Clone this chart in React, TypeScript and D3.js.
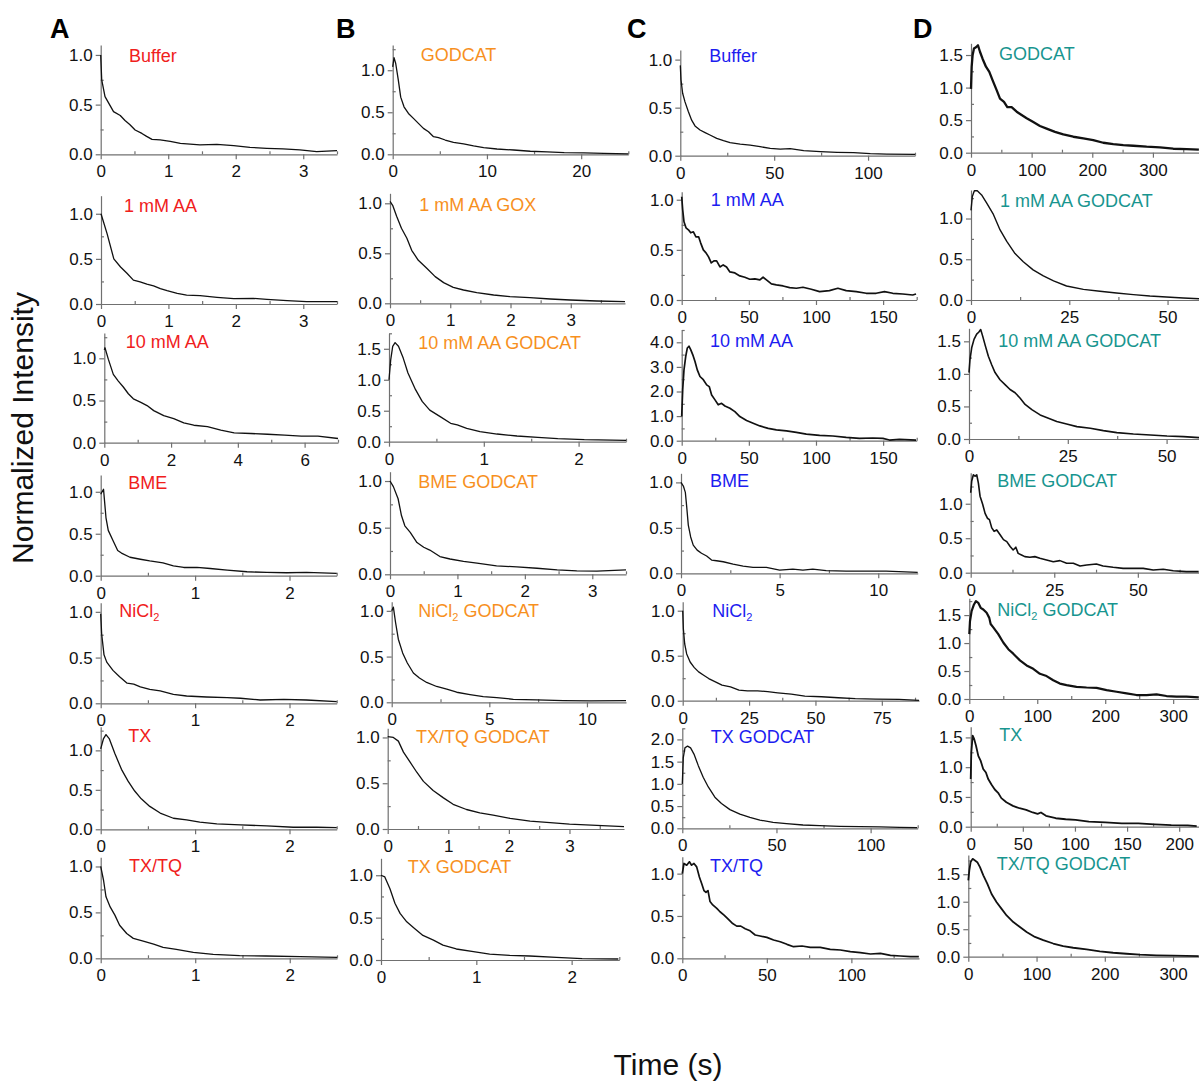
import React, { useEffect, useRef } from 'react';
import * as d3 from 'd3';

type Pt = [number, number];

// traces: [time (s), normalized intensity]
// column A
const aBuffer: Pt[] = [[0, 1.0], [0.015, 0.75], [0.064, 0.58], [0.19, 0.43], [0.29, 0.39], [0.36, 0.34], [0.43, 0.3], [0.51, 0.245], [0.61, 0.21], [0.68, 0.18], [0.76, 0.15], [0.88, 0.145], [1.03, 0.13], [1.18, 0.11], [1.47, 0.094], [1.72, 0.1], [1.97, 0.087], [2.21, 0.07], [2.46, 0.06], [2.7, 0.054], [2.95, 0.044], [3.2, 0.027], [3.5, 0.037]];
const aAA1: Pt[] = [[0, 1.0], [0.09, 0.78], [0.19, 0.5], [0.29, 0.41], [0.385, 0.34], [0.48, 0.265], [0.58, 0.245], [0.68, 0.22], [0.78, 0.2], [0.88, 0.17], [0.98, 0.147], [1.13, 0.118], [1.27, 0.099], [1.47, 0.092], [1.72, 0.074], [1.97, 0.059], [2.26, 0.062], [2.46, 0.051], [2.76, 0.037], [3.05, 0.026], [3.5, 0.026]];
const aAA10: Pt[] = [[0, 1.1], [0.02, 1.125], [0.12, 0.99], [0.27, 0.81], [0.42, 0.73], [0.57, 0.66], [0.72, 0.58], [0.87, 0.52], [1.08, 0.48], [1.28, 0.44], [1.48, 0.38], [1.78, 0.32], [2.08, 0.285], [2.38, 0.234], [2.68, 0.207], [3.09, 0.19], [3.49, 0.148], [3.89, 0.117], [4.39, 0.109], [4.89, 0.1], [5.4, 0.09], [5.9, 0.078], [6.4, 0.078], [7.0, 0.05]];
const aBME: Pt[] = [[0, 0.97], [0.03, 1.03], [0.056, 0.69], [0.08, 0.54], [0.13, 0.42], [0.18, 0.3], [0.22, 0.27], [0.31, 0.22], [0.42, 0.196], [0.52, 0.176], [0.66, 0.153], [0.77, 0.118], [0.88, 0.098], [1.02, 0.098], [1.16, 0.086], [1.34, 0.067], [1.55, 0.047], [1.76, 0.039], [1.97, 0.035], [2.18, 0.039], [2.5, 0.027]];
const aNiCl2: Pt[] = [[0, 0.98], [0.01, 0.76], [0.035, 0.53], [0.064, 0.45], [0.13, 0.36], [0.2, 0.29], [0.28, 0.22], [0.35, 0.21], [0.42, 0.18], [0.52, 0.153], [0.63, 0.135], [0.77, 0.098], [0.91, 0.08], [1.12, 0.069], [1.34, 0.062], [1.48, 0.055], [1.69, 0.036], [1.94, 0.044], [2.18, 0.036], [2.5, 0.018]];
const aTX: Pt[] = [[0, 1.02], [0.03, 1.15], [0.056, 1.2], [0.09, 1.15], [0.15, 0.96], [0.22, 0.76], [0.29, 0.61], [0.36, 0.485], [0.43, 0.386], [0.52, 0.29], [0.63, 0.206], [0.77, 0.14], [0.91, 0.12], [1.05, 0.09], [1.23, 0.069], [1.48, 0.056], [1.76, 0.043], [2.04, 0.026], [2.29, 0.026], [2.5, 0.021]];
const aTXTQ: Pt[] = [[0, 1.0], [0.03, 0.85], [0.056, 0.67], [0.1, 0.56], [0.15, 0.47], [0.2, 0.36], [0.275, 0.27], [0.345, 0.217], [0.45, 0.188], [0.56, 0.155], [0.66, 0.119], [0.8, 0.097], [0.98, 0.065], [1.19, 0.043], [1.47, 0.029], [1.75, 0.025], [2.11, 0.018], [2.5, 0.011]];

// column B
const bGodcat: Pt[] = [[0, 1.04], [0.14, 1.15], [0.32, 1.08], [0.6, 0.88], [0.85, 0.68], [1.2, 0.565], [1.67, 0.486], [2.2, 0.427], [2.73, 0.368], [3.26, 0.308], [3.8, 0.269], [4.33, 0.209], [4.86, 0.198], [5.57, 0.17], [6.45, 0.142], [7.52, 0.123], [8.58, 0.099], [9.65, 0.079], [11.06, 0.063], [12.84, 0.051], [14.6, 0.036], [16.4, 0.028], [18.2, 0.02], [20.3, 0.016], [22.4, 0.012], [25, 0.004]];
const bAA1Gox: Pt[] = [[0, 1.02], [0.044, 0.98], [0.11, 0.87], [0.19, 0.75], [0.28, 0.65], [0.36, 0.53], [0.47, 0.43], [0.61, 0.35], [0.75, 0.267], [0.89, 0.207], [1.05, 0.16], [1.22, 0.133], [1.44, 0.107], [1.72, 0.083], [1.99, 0.067], [2.32, 0.057], [2.66, 0.043], [2.99, 0.033], [3.43, 0.023], [3.9, 0.017]];
const bAA10Godcat: Pt[] = [[0, 1.0], [0.018, 1.32], [0.039, 1.54], [0.064, 1.6], [0.1, 1.54], [0.15, 1.35], [0.2, 1.11], [0.28, 0.84], [0.35, 0.65], [0.43, 0.51], [0.54, 0.405], [0.65, 0.297], [0.72, 0.27], [0.82, 0.216], [0.96, 0.162], [1.14, 0.124], [1.35, 0.092], [1.57, 0.07], [1.78, 0.049], [2.06, 0.032], [2.5, 0.022]];
const bBMEGodcat: Pt[] = [[0, 1.0], [0.05, 0.94], [0.12, 0.81], [0.17, 0.63], [0.22, 0.52], [0.3, 0.45], [0.4, 0.34], [0.5, 0.29], [0.59, 0.26], [0.74, 0.19], [0.89, 0.164], [1.09, 0.138], [1.29, 0.12], [1.58, 0.09], [1.88, 0.08], [2.18, 0.065], [2.48, 0.047], [2.77, 0.036], [3.07, 0.033], [3.5, 0.047]];
const bNiCl2Godcat: Pt[] = [[0, 1.0], [0.085, 1.04], [0.2, 0.87], [0.34, 0.69], [0.56, 0.54], [0.8, 0.43], [1.11, 0.32], [1.42, 0.265], [1.79, 0.217], [2.3, 0.173], [2.82, 0.143], [3.33, 0.11], [4.01, 0.085], [4.69, 0.063], [5.38, 0.051], [6.23, 0.033], [7.42, 0.026], [8.79, 0.018], [10.15, 0.015], [12, 0.018]];
const bTXTQGodcat: Pt[] = [[0, 1.01], [0.093, 1.0], [0.176, 0.96], [0.26, 0.84], [0.37, 0.73], [0.48, 0.62], [0.59, 0.52], [0.75, 0.42], [0.92, 0.34], [1.08, 0.27], [1.3, 0.213], [1.52, 0.177], [1.74, 0.152], [2.02, 0.116], [2.35, 0.087], [2.68, 0.069], [3.0, 0.054], [3.45, 0.04], [3.9, 0.025]];
const bTXGodcat: Pt[] = [[0, 1.0], [0.04, 0.98], [0.094, 0.84], [0.146, 0.67], [0.2, 0.55], [0.27, 0.45], [0.355, 0.37], [0.44, 0.29], [0.55, 0.235], [0.65, 0.176], [0.79, 0.13], [0.97, 0.098], [1.14, 0.07], [1.35, 0.055], [1.56, 0.047], [1.84, 0.031], [2.11, 0.016], [2.49, 0.012]];

// column C
const cBuffer: Pt[] = [[0, 0.94], [0.36, 0.79], [1.25, 0.65], [2.5, 0.56], [4.27, 0.46], [6.05, 0.37], [7.83, 0.31], [10.5, 0.267], [13.2, 0.24], [15.8, 0.215], [19.4, 0.18], [23, 0.156], [26.5, 0.135], [31.9, 0.12], [37.2, 0.11], [42.5, 0.094], [47.9, 0.076], [53.2, 0.069], [58.5, 0.073], [65.7, 0.052], [74.6, 0.042], [83.5, 0.035], [92.3, 0.031], [101.2, 0.021], [110, 0.017], [125, 0.014]];
const cAA1: Pt[] = [[0, 1.03], [0.74, 0.9], [1.7, 0.78], [3.2, 0.72], [5, 0.7], [6.7, 0.67], [8.7, 0.68], [10.6, 0.63], [12.6, 0.63], [14.1, 0.57], [16.1, 0.5], [18.1, 0.47], [20, 0.43], [22, 0.37], [24, 0.39], [26, 0.39], [28.5, 0.33], [30.9, 0.35], [33.4, 0.33], [35.9, 0.28], [39.6, 0.27], [43.3, 0.24], [47, 0.227], [50.7, 0.207], [54.5, 0.21], [58.2, 0.2], [60.6, 0.227], [63.1, 0.2], [66.8, 0.16], [70.5, 0.15], [75.5, 0.14], [80.4, 0.123], [85.4, 0.117], [90.3, 0.127], [96.5, 0.107], [102.7, 0.083], [110, 0.093], [116.3, 0.117], [122.5, 0.093], [130, 0.083], [137.4, 0.067], [144.8, 0.067], [151, 0.083], [157.2, 0.067], [164.6, 0.06], [172, 0.05], [174.5, 0.06]];
const cAA10: Pt[] = [[0, 0.98], [0.74, 2.07], [1.7, 2.88], [3, 3.43], [4.2, 3.77], [5.4, 3.84], [6.7, 3.7], [8.2, 3.5], [9.9, 3.22], [11.6, 2.88], [13.6, 2.61], [16.1, 2.48], [18.6, 2.27], [20.5, 2.2], [22.3, 1.86], [24.8, 1.66], [27.2, 1.46], [29.7, 1.52], [32.2, 1.41], [35.9, 1.32], [39.6, 1.18], [43.3, 0.98], [48.3, 0.82], [53.2, 0.71], [58.2, 0.6], [64.4, 0.5], [70.5, 0.44], [78, 0.4], [85.4, 0.34], [92.8, 0.27], [102.7, 0.22], [112.6, 0.19], [122.5, 0.136], [132.4, 0.095], [142.3, 0.11], [149.8, 0.095], [154.7, 0.027], [162.1, 0.054], [174.5, 0.027]];
const cBME: Pt[] = [[0, 1.0], [0.12, 0.96], [0.22, 0.89], [0.29, 0.73], [0.37, 0.53], [0.49, 0.4], [0.62, 0.31], [0.82, 0.255], [1.04, 0.22], [1.3, 0.19], [1.55, 0.145], [1.8, 0.138], [2.14, 0.127], [2.64, 0.1], [3.15, 0.08], [3.65, 0.065], [4.33, 0.065], [5, 0.036], [5.67, 0.047], [6.18, 0.036], [6.68, 0.047], [7.36, 0.029], [8.37, 0.025], [9.38, 0.025], [10.4, 0.025], [12, 0.011]];
const cNiCl2: Pt[] = [[0, 1.0], [0.25, 0.8], [0.76, 0.63], [1.5, 0.52], [2.8, 0.43], [4.3, 0.37], [6, 0.32], [7.9, 0.283], [9.8, 0.246], [12.3, 0.21], [14.8, 0.173], [18, 0.154], [21.2, 0.118], [24.4, 0.11], [28.2, 0.11], [32, 0.1], [35.8, 0.088], [40.9, 0.074], [46, 0.051], [52.3, 0.044], [58.6, 0.033], [65, 0.022], [72.6, 0.018], [81.5, 0.015], [89, 0.004]];
const cTXGodcat: Pt[] = [[0, 1.0], [0.53, 1.59], [1.4, 1.81], [2.8, 1.85], [4.4, 1.81], [6.2, 1.67], [8.5, 1.41], [11.1, 1.15], [13.8, 0.93], [17.3, 0.7], [20.8, 0.56], [25.3, 0.42], [30.6, 0.32], [35.9, 0.244], [41.2, 0.185], [48.2, 0.133], [55.3, 0.104], [64.1, 0.074], [72.9, 0.059], [83.6, 0.044], [94.2, 0.037], [104.8, 0.03], [115.4, 0.022], [124.7, 0.015]];
const cTXTQ: Pt[] = [[0, 1.0], [1, 1.12], [2.6, 1.1], [4.2, 1.14], [5.5, 1.1], [6.9, 1.12], [8.5, 1.08], [10.1, 0.96], [11.5, 0.88], [12.8, 0.8], [14, 0.78], [15.2, 0.8], [16.4, 0.67], [18, 0.63], [20.4, 0.59], [22.3, 0.55], [24.7, 0.51], [27.3, 0.46], [29.8, 0.41], [32.2, 0.38], [34.6, 0.38], [37.2, 0.35], [40.1, 0.325], [43.1, 0.275], [46, 0.263], [50, 0.247], [54, 0.216], [57.9, 0.196], [61.9, 0.165], [65.8, 0.137], [70.8, 0.145], [75.7, 0.13], [81.6, 0.13], [87.5, 0.106], [93.5, 0.098], [99.4, 0.078], [105.3, 0.067], [111.3, 0.051], [117.2, 0.059], [123.1, 0.035], [129, 0.027], [135, 0.02], [139.9, 0.02]];

// column D
const dGodcat: Pt[] = [[0, 0.98], [1.1, 1.32], [2.7, 1.5], [4.9, 1.6], [8.2, 1.62], [11.5, 1.65], [14.8, 1.55], [19.2, 1.44], [24.7, 1.32], [30.2, 1.24], [35.7, 1.11], [42.3, 0.96], [47.8, 0.83], [54.4, 0.78], [59.9, 0.7], [67, 0.7], [75.3, 0.63], [83.5, 0.58], [91.8, 0.53], [102.7, 0.47], [113.7, 0.41], [124.7, 0.37], [138.5, 0.32], [152.2, 0.28], [168.7, 0.245], [185.2, 0.22], [201.6, 0.194], [218.1, 0.153], [234.6, 0.133], [251.1, 0.117], [267.6, 0.107], [289.6, 0.092], [311.5, 0.082], [333.5, 0.061], [355.5, 0.056], [375.8, 0.046]];
const dAA1Godcat: Pt[] = [[0, 1.1], [0.34, 1.27], [0.85, 1.34], [1.6, 1.34], [2.7, 1.29], [4, 1.19], [5.7, 1.05], [7.4, 0.86], [9.1, 0.72], [11.2, 0.57], [13.3, 0.47], [15.8, 0.37], [18.4, 0.295], [21, 0.234], [24.3, 0.172], [28.6, 0.131], [32.8, 0.107], [37, 0.086], [41.3, 0.066], [45.5, 0.049], [49.7, 0.037], [54, 0.025], [58, 0.016]];
const dAA10Godcat: Pt[] = [[0, 1.02], [0.25, 1.22], [0.68, 1.4], [1.27, 1.53], [1.94, 1.61], [2.45, 1.64], [2.96, 1.68], [3.46, 1.58], [4.14, 1.43], [4.9, 1.27], [5.74, 1.14], [6.59, 1.02], [7.85, 0.91], [9.12, 0.835], [10.39, 0.76], [11.66, 0.71], [12.9, 0.63], [14.2, 0.53], [15.9, 0.45], [18, 0.37], [20.1, 0.32], [22.2, 0.27], [24.7, 0.23], [27.3, 0.19], [30.7, 0.165], [34, 0.129], [37.4, 0.098], [41.6, 0.077], [45.9, 0.062], [50.1, 0.046], [54.3, 0.036], [58.2, 0.021]];
const dBMEGodcat: Pt[] = [[0, 1.16], [0.3, 1.33], [0.8, 1.42], [1.3, 1.4], [1.8, 1.42], [2.3, 1.3], [2.8, 1.11], [3.6, 0.99], [4.3, 0.86], [5, 0.79], [5.6, 0.77], [6.3, 0.65], [7, 0.6], [7.8, 0.62], [8.8, 0.55], [9.8, 0.48], [10.8, 0.45], [11.8, 0.38], [12.7, 0.33], [13.5, 0.37], [14.2, 0.28], [15.2, 0.257], [16.2, 0.233], [17.7, 0.223], [19.2, 0.233], [20.7, 0.209], [22.7, 0.184], [24.7, 0.16], [26.7, 0.175], [28.7, 0.136], [30.7, 0.136], [32.7, 0.097], [34.7, 0.112], [37.6, 0.126], [39.6, 0.097], [42.6, 0.078], [45.6, 0.063], [48.6, 0.063], [51.6, 0.063], [54.6, 0.039], [57.6, 0.049], [60.6, 0.029], [64.5, 0.015], [68.2, 0.015]];
const dNiCl2Godcat: Pt[] = [[0, 1.16], [1, 1.39], [3.4, 1.57], [6.9, 1.69], [9.8, 1.75], [13.2, 1.72], [16.7, 1.63], [20.6, 1.6], [25.5, 1.54], [29.4, 1.45], [31.4, 1.34], [35.3, 1.28], [42.6, 1.16], [50, 1.01], [57.4, 0.89], [64.7, 0.81], [74.5, 0.69], [84.3, 0.6], [94.1, 0.54], [103.9, 0.45], [113.7, 0.41], [123.5, 0.335], [133.3, 0.276], [143.1, 0.247], [157.8, 0.218], [172.5, 0.206], [187.3, 0.2], [202, 0.159], [216.7, 0.129], [231.4, 0.1], [246.1, 0.071], [260.8, 0.071], [275.5, 0.082], [290.2, 0.053], [304.9, 0.041], [319.6, 0.041], [337.7, 0.029]];
const dTX: Pt[] = [[0, 0.8], [0.6, 1.25], [1.9, 1.53], [3.2, 1.48], [5.1, 1.36], [7.3, 1.19], [9.5, 1.11], [12, 0.97], [14.6, 0.91], [16.8, 0.8], [19.9, 0.71], [23.1, 0.625], [26.3, 0.57], [29.4, 0.48], [34.2, 0.41], [40.5, 0.35], [46.8, 0.31], [53.2, 0.284], [59.5, 0.239], [64.2, 0.216], [67.4, 0.239], [72.2, 0.182], [81.6, 0.142], [91.1, 0.125], [100.6, 0.114], [113.3, 0.085], [129.1, 0.074], [145, 0.057], [160.8, 0.057], [176.6, 0.04], [192.4, 0.028], [208.2, 0.023], [216.8, 0.011]];
const dTXTQGodcat: Pt[] = [[0, 1.39], [1.5, 1.57], [3.4, 1.72], [6.3, 1.78], [9.8, 1.75], [13.2, 1.72], [17.1, 1.63], [22, 1.48], [27.8, 1.33], [34.1, 1.14], [41.5, 0.99], [48.8, 0.87], [56.1, 0.75], [65.9, 0.63], [75.6, 0.54], [85.4, 0.45], [97.6, 0.36], [109.8, 0.3], [124.4, 0.24], [139, 0.193], [153.7, 0.163], [173.2, 0.133], [192.7, 0.096], [212.2, 0.072], [231.7, 0.054], [251.2, 0.036], [275.6, 0.024], [300, 0.018], [337.6, 0.012]];

const RED = '#f0201c';
const ORANGE = '#f7901e';
const BLUE = '#1d1df0';
const TEAL = '#18958f';
const FONT = '"Liberation Sans", Arial, Helvetica, sans-serif';

// label text ("_2" marks a subscript 2), colour, x domain end, x tick step, y domain end, y tick step
const PANELS = [
  { data: aBuffer, label: 'Buffer', color: RED, xMax: 3.5, xStep: 1, yMax: 1.1, yStep: 0.5 },
  { data: aAA1, label: '1 mM AA', color: RED, xMax: 3.5, xStep: 1, yMax: 1.2, yStep: 0.5 },
  { data: aAA10, label: '10 mM AA', color: RED, xMax: 7, xStep: 2, yMax: 1.3, yStep: 0.5 },
  { data: aBME, label: 'BME', color: RED, xMax: 2.5, xStep: 1, yMax: 1.2, yStep: 0.5 },
  { data: aNiCl2, label: 'NiCl_2', color: RED, xMax: 2.5, xStep: 1, yMax: 1.1, yStep: 0.5 },
  { data: aTX, label: 'TX', color: RED, xMax: 2.5, xStep: 1, yMax: 1.3, yStep: 0.5 },
  { data: aTXTQ, label: 'TX/TQ', color: RED, xMax: 2.5, xStep: 1, yMax: 1.1, yStep: 0.5 },
  { data: bGodcat, label: 'GODCAT', color: ORANGE, xMax: 25, xStep: 10, yMax: 1.3, yStep: 0.5 },
  { data: bAA1Gox, label: '1 mM AA GOX', color: ORANGE, xMax: 3.9, xStep: 1, yMax: 1.1, yStep: 0.5 },
  { data: bAA10Godcat, label: '10 mM AA GODCAT', color: ORANGE, xMax: 2.5, xStep: 1, yMax: 1.75, yStep: 0.5 },
  { data: bBMEGodcat, label: 'BME GODCAT', color: ORANGE, xMax: 3.5, xStep: 1, yMax: 1.1, yStep: 0.5 },
  { data: bNiCl2Godcat, label: 'NiCl_2 GODCAT', color: ORANGE, xMax: 12, xStep: 5, yMax: 1.1, yStep: 0.5 },
  { data: bTXTQGodcat, label: 'TX/TQ GODCAT', color: ORANGE, xMax: 3.9, xStep: 1, yMax: 1.1, yStep: 0.5 },
  { data: bTXGodcat, label: 'TX GODCAT', color: ORANGE, xMax: 2.5, xStep: 1, yMax: 1.2, yStep: 0.5 },
  { data: cBuffer, label: 'Buffer', color: BLUE, xMax: 125, xStep: 50, yMax: 1.1, yStep: 0.5 },
  { data: cAA1, label: '1 mM AA', color: BLUE, xMax: 175, xStep: 50, yMax: 1.08, yStep: 0.5 },
  { data: cAA10, label: '10 mM AA', color: BLUE, xMax: 175, xStep: 50, yMax: 4.5, yStep: 1 },
  { data: cBME, label: 'BME', color: BLUE, xMax: 12, xStep: 5, yMax: 1.1, yStep: 0.5 },
  { data: cNiCl2, label: 'NiCl_2', color: BLUE, xMax: 89, xStep: 25, yMax: 1.1, yStep: 0.5 },
  { data: cTXGodcat, label: 'TX GODCAT', color: BLUE, xMax: 125, xStep: 50, yMax: 2.25, yStep: 0.5 },
  { data: cTXTQ, label: 'TX/TQ', color: BLUE, xMax: 140, xStep: 50, yMax: 1.2, yStep: 0.5 },
  { data: dGodcat, label: 'GODCAT', color: TEAL, xMax: 376, xStep: 100, yMax: 1.68, yStep: 0.5 },
  { data: dAA1Godcat, label: '1 mM AA GODCAT', color: TEAL, xMax: 58, xStep: 25, yMax: 1.35, yStep: 0.5 },
  { data: dAA10Godcat, label: '10 mM AA GODCAT', color: TEAL, xMax: 58.2, xStep: 25, yMax: 1.7, yStep: 0.5 },
  { data: dBMEGodcat, label: 'BME GODCAT', color: TEAL, xMax: 68.3, xStep: 25, yMax: 1.45, yStep: 0.5 },
  { data: dNiCl2Godcat, label: 'NiCl_2 GODCAT', color: TEAL, xMax: 338, xStep: 100, yMax: 1.8, yStep: 0.5 },
  { data: dTX, label: 'TX', color: TEAL, xMax: 219, xStep: 50, yMax: 1.68, yStep: 0.5 },
  { data: dTXTQGodcat, label: 'TX/TQ GODCAT', color: TEAL, xMax: 338, xStep: 100, yMax: 1.85, yStep: 0.5 },
];

// layout: plot box [left, right, top, bottom] in px, label anchor [x, baseline], trace width
const BOXES = [
  [100.7, 337, 45, 154.3], [101, 337, 195.7, 304], [104.3, 338, 333, 442.7], [100.7, 336.7, 475, 575.7],
  [100.7, 336.7, 602.7, 703.3], [100.7, 336.7, 726.7, 829.3], [100.7, 337, 857.3, 958.3],
  [392.7, 628.3, 45, 154.3], [390, 625, 193.3, 303.3], [389, 626, 333.3, 441.7], [390, 626, 471.7, 574.3],
  [391.7, 626, 601.7, 702.3], [387.7, 624, 728.3, 829], [381, 619.3, 858.3, 960],
  [680.3, 915, 50, 155.7], [681.7, 916.7, 191.7, 300], [681.7, 916.7, 330, 440.7], [681, 917.7, 473.3, 573.3],
  [682.7, 919, 601.7, 700.7], [682.3, 917.7, 728.3, 828.3], [682.3, 919, 856.7, 958.3],
  [971, 1199, 43.3, 152.7], [971, 1199, 190, 300], [969, 1199, 328.3, 439], [970.7, 1199, 472.7, 572.7],
  [969.3, 1199, 598.3, 699], [970.7, 1199, 726.7, 826.7], [968.3, 1199, 855, 956.7],
];
const LABEL_POS = [
  [129, 61.5], [124, 211.7], [125.7, 348.3], [128.3, 489], [119.3, 616.7], [128.3, 742.3], [129, 872.3],
  [420.7, 61], [419.3, 211], [418.3, 349.3], [418.3, 488.3], [418.3, 616.7], [416, 743.3], [407.7, 873.3],
  [709.3, 62.3], [710.7, 206], [710, 346.7], [710, 487.3], [712.3, 616.7], [710.7, 743.3], [710, 871.7],
  [999, 60], [1000, 206.7], [998.3, 346.7], [997.3, 487.3], [997.3, 616], [999.3, 741], [996.7, 870],
];
const LINE_W = [
  1.3, 1.3, 1.3, 1.3, 1.3, 1.3, 1.3,
  1.3, 1.3, 1.3, 1.3, 1.3, 1.3, 1.3,
  1.3, 1.7, 1.7, 1.3, 1.3, 1.3, 1.7,
  2.3, 1.4, 1.6, 1.6, 2.2, 1.8, 1.8,
];
const LETTERS = [['A', 50], ['B', 336], ['C', 627], ['D', 913]] as const;

export default function App() {
  const ref = useRef<SVGSVGElement>(null);

  useEffect(() => {
    const svg = d3.select(ref.current);
    svg.selectAll('*').remove();

    PANELS.forEach((p, i) => {
      const [l, r, t, b] = BOXES[i];
      const x = d3.scaleLinear().domain([0, p.xMax]).range([l, r]);
      const y = d3.scaleLinear().domain([0, p.yMax]).range([b, t]);
      const eps = 1e-6;
      const xMajor = d3.range(0, p.xMax + eps, p.xStep);
      const xMinor = d3.range(p.xStep / 2, p.xMax + eps, p.xStep);
      const yMajor = d3.range(0, p.yMax + eps, p.yStep);
      const yMinor = d3.range(p.yStep / 2, p.yMax + eps, p.yStep);
      const g = svg.append('g');

      const style = (sel: d3.Selection<SVGGElement, unknown, null, undefined>) => {
        sel.attr('color', '#707070')
          .attr('font-family', FONT)
          .attr('font-size', 17);
        sel.selectAll('text').attr('fill', '#111');
        sel.selectAll('line, path').attr('stroke-width', 1.2);
      };

      // major ticks point out, minor ticks point in
      g.append('g').attr('transform', `translate(${l},0)`)
        .call(d3.axisRight(y).tickValues(yMinor).tickSize(3).tickFormat(() => ''))
        .call(s => s.select('.domain').remove()).call(style);
      g.append('g').attr('transform', `translate(0,${b})`)
        .call(d3.axisTop(x).tickValues(xMinor).tickSize(3).tickFormat(() => ''))
        .call(s => s.select('.domain').remove()).call(style);
      g.append('g').attr('transform', `translate(${l},0)`)
        .call(d3.axisLeft(y).tickValues(yMajor).tickSize(5).tickSizeOuter(0).tickPadding(3)
          .tickFormat(d3.format('.1f')))
        .call(style);
      g.append('g').attr('transform', `translate(0,${b})`)
        .call(d3.axisBottom(x).tickValues(xMajor).tickSize(5).tickSizeOuter(0).tickPadding(6)
          .tickFormat(d3.format('d')))
        .call(style);

      g.append('path')
        .datum(p.data)
        .attr('fill', 'none')
        .attr('stroke', '#111')
        .attr('stroke-width', LINE_W[i])
        .attr('stroke-linejoin', 'round')
        .attr('d', d3.line<Pt>().x(d => x(d[0])).y(d => y(d[1])));

      const [lx, ly] = LABEL_POS[i];
      const parts = p.label.split('_2');
      const txt = g.append('text')
        .attr('x', lx).attr('y', ly)
        .attr('fill', p.color)
        .attr('font-family', FONT)
        .attr('font-size', 18);
      txt.append('tspan').text(parts[0]);
      if (parts.length > 1) {
        txt.append('tspan').attr('font-size', 11).attr('dy', 4).text('2');
        txt.append('tspan').attr('dy', -4).text(parts[1]);
      }
    });

    LETTERS.forEach(([s, lx]) => {
      svg.append('text').attr('x', lx).attr('y', 38)
        .attr('font-family', FONT).attr('font-weight', 'bold').attr('font-size', 27)
        .attr('fill', '#000').text(s);
    });

    svg.append('text')
      .attr('transform', 'translate(33,428) rotate(-90)')
      .attr('text-anchor', 'middle')
      .attr('font-family', FONT).attr('font-size', 30).attr('fill', '#111')
      .text('Normalized Intensity');

    svg.append('text')
      .attr('x', 668).attr('y', 1075)
      .attr('text-anchor', 'middle')
      .attr('font-family', FONT).attr('font-size', 30).attr('fill', '#111')
      .text('Time (s)');
  }, []);

  return (
    <svg
      ref={ref}
      width={1199}
      height={1082}
      style={{ position: 'absolute', left: 0, top: 0, background: '#fff' }}
    />
  );
}
